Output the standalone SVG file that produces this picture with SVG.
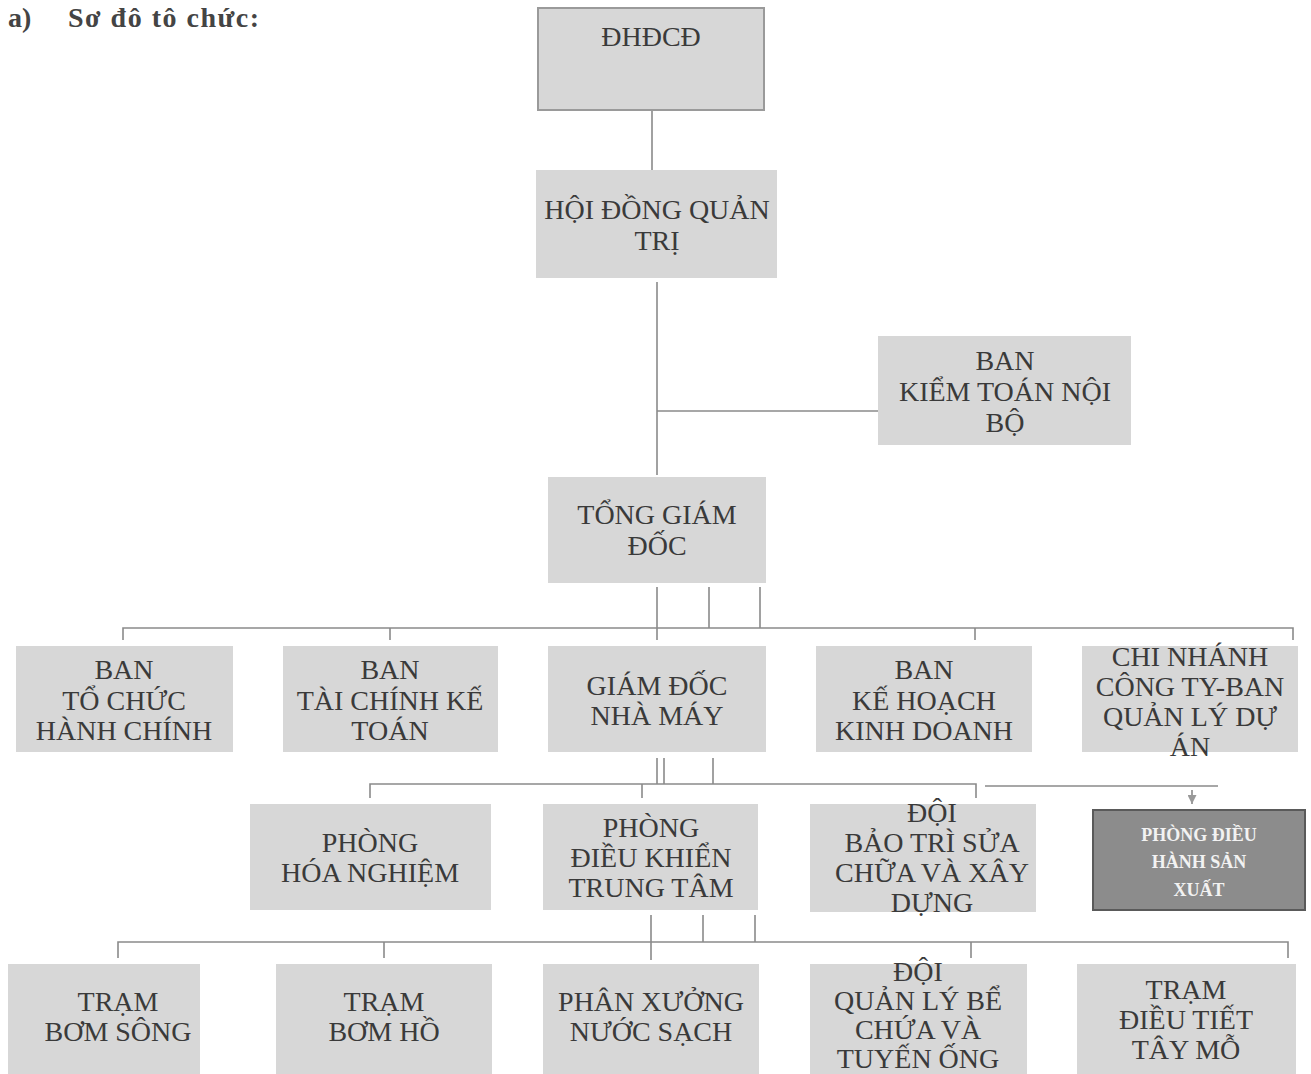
<svg xmlns="http://www.w3.org/2000/svg" width="1311" height="1074" viewBox="0 0 1311 1074">
<style>
.bx{fill:#d7d7d7;}
.t{font-family:'Liberation Serif','Times New Roman',serif;font-size:28px;fill:#3a3a3a;text-anchor:middle;}
.ln{stroke:#8a8a8a;stroke-width:1.6;fill:none;}
.dk{fill:#8c8c8c;stroke:#5a5a5a;stroke-width:2;}
.tw{font-family:'Liberation Serif','Times New Roman',serif;font-size:18px;font-weight:bold;fill:#f2f2f2;text-anchor:middle;}
.ttl{font-family:'Liberation Serif','Times New Roman',serif;font-size:28px;font-weight:bold;fill:#444;}
</style>
<defs>
<marker id="ah" markerWidth="9" markerHeight="9" refX="9" refY="4.5" orient="auto" markerUnits="userSpaceOnUse">
<path d="M0,0 L9,4.5 L0,9 Z" fill="#999"/>
</marker>
</defs>
<rect width="1311" height="1074" fill="#ffffff"/>
<text class="ttl" x="8" y="27">a)</text>
<text class="ttl" x="68" y="27" letter-spacing="1.5">Sơ đô tô chức:</text>

<g id="connectors">
<path class="ln" d="M652,110 V170"/>
<path class="ln" d="M657,282 V475 M657,411 H878"/>
<path class="ln" d="M657,587 V640 M709,587 V628 M760,587 V628"/>
<path class="ln" d="M123,640 V628 H1293 V640 M390,628 V640 M975,628 V640"/>
<path class="ln" d="M657,758 V784 M664,758 V784 M713,758 V784"/>
<path class="ln" d="M370,798 V784 H976 V798 M642,784 V798"/>
<path class="ln" d="M985,786 H1218"/>
<path class="ln" d="M1192,790 V804" marker-end="url(#ah)"/>
<path class="ln" d="M651,915 V960 M703,915 V942 M755,915 V942"/>
<path class="ln" d="M118,958 V942 H1288 V958 M384,942 V958 M971,942 V958"/>
</g>

<g id="n-dhdcd"><rect class="bx" x="538" y="8" width="226" height="102" stroke="#9a9a9a" stroke-width="2"/><text class="t" x="651" y="46" font-size="24">ĐHĐCĐ</text></g>
<g id="n-hdqt"><rect class="bx" x="536" y="170" width="241" height="108"/><text class="t" x="657" y="219">HỘI ĐỒNG QUẢN</text><text class="t" x="657" y="250">TRỊ</text></g>
<g id="n-bktnb"><rect class="bx" x="878" y="336" width="253" height="109"/><text class="t" x="1005" y="370">BAN</text><text class="t" x="1005" y="401">KIỂM TOÁN NỘI</text><text class="t" x="1005" y="432">BỘ</text></g>
<g id="n-tgd"><rect class="bx" x="548" y="477" width="218" height="106"/><text class="t" x="657" y="524">TỔNG GIÁM</text><text class="t" x="657" y="555">ĐỐC</text></g>

<g id="n-btchc"><rect class="bx" x="16" y="646" width="217" height="106"/><text class="t" x="124" y="679">BAN</text><text class="t" x="124" y="710">TỔ CHỨC</text><text class="t" x="124" y="740">HÀNH CHÍNH</text></g>
<g id="n-btckt"><rect class="bx" x="283" y="646" width="215" height="106"/><text class="t" x="390" y="679">BAN</text><text class="t" x="390" y="710">TÀI CHÍNH KẾ</text><text class="t" x="390" y="740">TOÁN</text></g>
<g id="n-gdnm"><rect class="bx" x="548" y="646" width="218" height="106"/><text class="t" x="657" y="695">GIÁM ĐỐC</text><text class="t" x="657" y="725">NHÀ MÁY</text></g>
<g id="n-bkhkd"><rect class="bx" x="816" y="646" width="216" height="106"/><text class="t" x="924" y="679">BAN</text><text class="t" x="924" y="710">KẾ HOẠCH</text><text class="t" x="924" y="740">KINH DOANH</text></g>
<g id="n-cn"><rect class="bx" x="1082" y="646" width="216" height="106"/><text class="t" x="1190" y="666">CHI NHÁNH</text><text class="t" x="1190" y="696">CÔNG TY-BAN</text><text class="t" x="1190" y="726">QUẢN LÝ DỰ</text><text class="t" x="1190" y="756">ÁN</text></g>

<g id="n-phn"><rect class="bx" x="250" y="804" width="241" height="106"/><text class="t" x="370" y="852">PHÒNG</text><text class="t" x="370" y="882">HÓA NGHIỆM</text></g>
<g id="n-pdktt"><rect class="bx" x="543" y="804" width="215" height="106"/><text class="t" x="651" y="837">PHÒNG</text><text class="t" x="651" y="867">ĐIỀU KHIỂN</text><text class="t" x="651" y="897">TRUNG TÂM</text></g>
<g id="n-dbt"><rect class="bx" x="810" y="804" width="226" height="108"/><text class="t" x="932" y="822">ĐỘI</text><text class="t" x="932" y="852">BẢO TRÌ SỬA</text><text class="t" x="932" y="882">CHỮA VÀ XÂY</text><text class="t" x="932" y="912">DỰNG</text></g>
<g id="n-pdhsx"><rect class="dk" x="1093" y="810" width="212" height="100"/><text class="tw" x="1199" y="841">PHÒNG ĐIỀU</text><text class="tw" x="1199" y="868">HÀNH SẢN</text><text class="tw" x="1199" y="896">XUẤT</text></g>

<g id="n-tbs"><rect class="bx" x="8" y="964" width="192" height="112"/><text class="t" x="118" y="1011">TRẠM</text><text class="t" x="118" y="1041">BƠM SÔNG</text></g>
<g id="n-tbh"><rect class="bx" x="276" y="964" width="216" height="112"/><text class="t" x="384" y="1011">TRẠM</text><text class="t" x="384" y="1041">BƠM HỒ</text></g>
<g id="n-pxns"><rect class="bx" x="543" y="964" width="216" height="112"/><text class="t" x="651" y="1011">PHÂN XƯỞNG</text><text class="t" x="651" y="1041">NƯỚC SẠCH</text></g>
<g id="n-dql"><rect class="bx" x="810" y="964" width="217" height="112"/><text class="t" x="918" y="981">ĐỘI</text><text class="t" x="918" y="1010">QUẢN LÝ BỂ</text><text class="t" x="918" y="1039">CHỨA VÀ</text><text class="t" x="918" y="1068">TUYẾN ỐNG</text></g>
<g id="n-tdt"><rect class="bx" x="1077" y="964" width="219" height="112"/><text class="t" x="1186" y="999">TRẠM</text><text class="t" x="1186" y="1029">ĐIỀU TIẾT</text><text class="t" x="1186" y="1059">TÂY MỖ</text></g>
</svg>
